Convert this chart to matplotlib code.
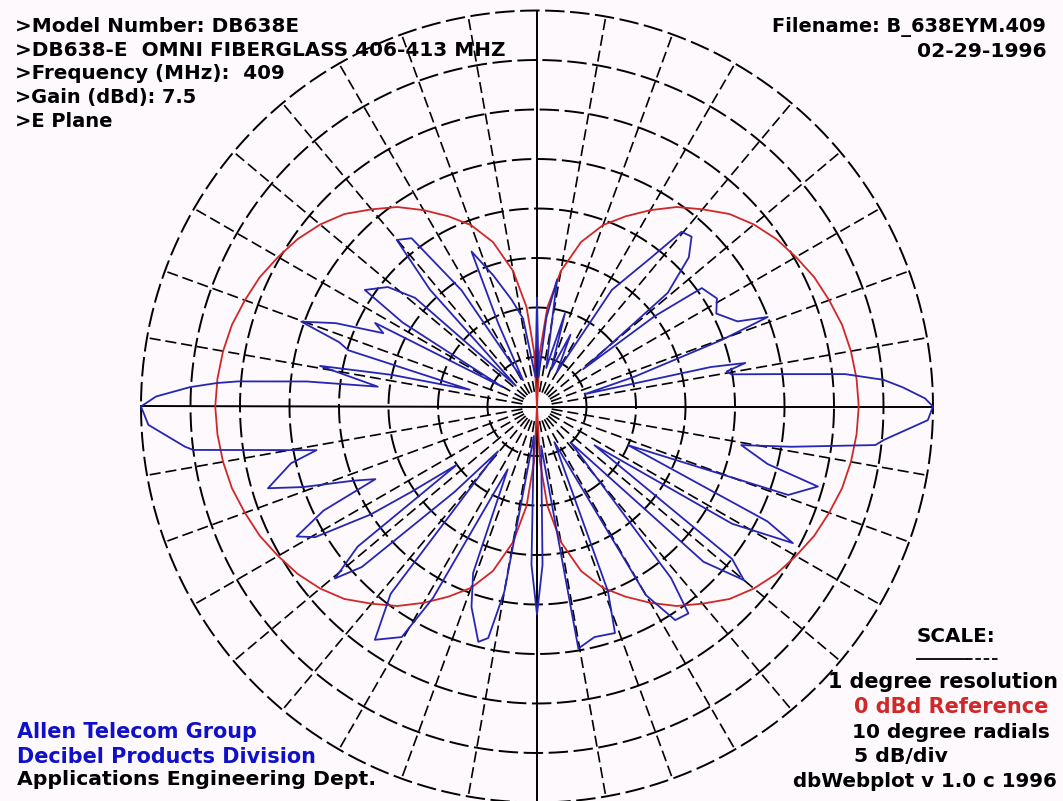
import numpy as np
import matplotlib
matplotlib.use("Agg")
import matplotlib.pyplot as plt

plt.rcParams['lines.scale_dashes'] = False

# measured E-plane pattern, dB relative to peak (angle 0 = horizon, counter-clockwise)
e_plane_deg = [0, 1.2, 3, 4.4, 6.0, 7.8, 9.4, 10.5, 11.8, 12.8, 14.5, 17, 19.8, 21.2, 23,
               27.4, 31, 35.7, 37.5, 39, 41, 44.5, 47.7, 50.4, 52.5, 57.3, 60, 65, 69,
               73.3, 76.5, 81, 84, 87, 90, 93, 99, 103.4, 108.5, 112.9, 115, 118, 123,
               126.7, 130.1, 132.5, 135.5, 138.3, 141.3, 145.9, 148, 150.5, 152.7, 154.5,
               157.5, 160.2, 162, 163.4, 166, 167.7, 169.4, 171, 172.9, 173.8, 175.2,
               175.8, 176.8, 178.5, 180,
               182.7, 186.5, 187.2, 191.2, 193, 196.9, 199, 202, 204.2, 206, 208.4, 210.5,
               213, 214.2, 216, 218, 220.4, 222.5, 226, 229, 232, 235.2, 239.6, 241.5, 245,
               249, 251.9, 256, 258.1, 260, 264, 268, 270, 272, 276, 279.7, 284, 289, 291,
               296, 300, 302.9, 306.2, 308, 313, 317, 320, 322, 326, 329, 331.9, 333.5,
               337, 340.6, 344.1, 346, 349.3, 351, 353.5, 354.5, 358, 360]
e_plane_db = [0, -0.8, -3.0, -4.9, -8.7, -15.9, -20.1, -20.5, -18.5, -22, -35, -29.7, -20.2,
              -15.0, -18, -19.6, -18.8, -19.5, -25, -34, -22.5, -18.5, -16.8, -17.1, -21,
              -26, -36, -32, -36, -30.2, -36, -27, -31, -37, -29, -37, -31, -28.9, -26,
              -23, -30.7, -37, -26, -18.8, -18.0, -24, -37, -23.5, -20.7, -19.0, -24, -36,
              -21.6, -22.8, -18, -14.7, -19, -20.1, -33, -25, -17.7, -21, -23.8, -16.6,
              -9.7, -7.6, -4.9, -1.5, 0,
              -0.7, -4.2, -5.0, -17.3, -14.5, -11.6, -15, -20, -22.1, -16, -12.4, -14,
              -20, -24.7, -30, -17, -13.2, -16, -28, -34, -16, -11.3, -13.0, -18, -33,
              -22, -18.7, -15.5, -16.1, -21, -37, -24, -19, -24, -36, -15.2, -16, -15.8,
              -20, -36, -18, -14.3, -14.1, -18, -35, -17, -12.7, -15, -33, -17, -10.7,
              -14, -30, -13.1, -10.5, -16, -19, -14, -5.6, -4.8, -0.5, 0]

# half-wave dipole reference (elevation from horizon, dBd)
ref_elev_deg = [0, 5, 10, 15, 20, 25, 30, 35, 40, 45, 50, 55, 60, 65, 70, 75, 80, 84, 87, 90]
ref_dbd = [0, -0.1, -0.3, -0.6, -1.1, -1.6, -2.3, -3.0, -3.9, -5.0, -6.5, -7.9, -9.6,
           -11.3, -13.0, -15.3, -18.6, -22.4, -27.0, -32.5]

peak_gain_dbd = 7.5
floor_db = -40

header_left = [">Model Number: DB638E",
               ">DB638-E  OMNI FIBERGLASS 406-413 MHZ",
               ">Frequency (MHz):  409",
               ">Gain (dBd): 7.5",
               ">E Plane"]
header_right = ["Filename: B_638EYM.409", "02-29-1996"]

W, H = 1063, 801
BG = '#fdf9fd'
BLUE = '#2626b4'
RED = '#d02828'

fig = plt.figure(figsize=(W / 100, H / 100), dpi=100, facecolor=BG)
cx, cy, R = 537, 406.5, 396
ax = fig.add_axes([(cx - R) / W, (H - cy - R) / H, 2 * R / W, 2 * R / H], projection='polar')
ax.set_axis_off()
ax.set_ylim(floor_db, 0)

# grid: dashed rings every 5 dB, dashed radials every 10 degrees
th = np.linspace(0, 2 * np.pi, 721)
for lvl in range(-35, 1, 5):
    ax.plot(th, np.full_like(th, lvl), color='black', lw=1.4,
            linestyle=(4, (14, 4)), clip_on=False, zorder=1)
for a in range(0, 360, 10):
    if a % 90:
        ax.plot([np.radians(a)] * 2, [floor_db + 1.5, 0], color='black', lw=1.2,
                linestyle=(0, (8, 3.5)), clip_on=False, zorder=1)
for a in (0, 90, 180, 270):
    ax.plot([np.radians(a)] * 2, [floor_db, 0], color='black', lw=1.4,
            clip_on=False, zorder=2)

# 0 dBd reference, mirrored into both lobes
el = np.array(ref_elev_deg)
ref = np.clip(np.array(ref_dbd) - peak_gain_dbd, floor_db, 0)
right_th = np.radians(np.concatenate([-el[::-1], el[1:]]))
right_r = np.concatenate([ref[::-1], ref[1:]])
ax.plot(right_th, right_r, color=RED, lw=1.3, zorder=3, clip_on=False)
ax.plot(np.pi - right_th, right_r, color=RED, lw=1.3, zorder=3, clip_on=False)

# measured pattern
ax.plot(np.radians(e_plane_deg), np.clip(e_plane_db, floor_db, 0), color=BLUE,
        lw=1.3, zorder=4, clip_on=False)

renderer = fig.canvas.get_renderer()


def put(s, x0, x1, base, color='black', weight='bold'):
    t = fig.text(x0 / W, 1 - base / H, s, ha='left', va='baseline', color=color,
                 fontsize=13, fontweight=weight, family='DejaVu Sans')
    w = t.get_window_extent(renderer).width
    t.set_fontsize(13 * (x1 - x0) / w)
    return t


for s, x1, b in zip(header_left, [298, 502, 283, 195, 112], [32, 55.5, 79, 103, 127]):
    put(s, 15, x1, b)
put(header_right[0], 772, 1045, 31.7)
put(header_right[1], 917, 1046, 56.7)

put("SCALE:", 917, 995, 641.7)
fig.add_artist(plt.Line2D([917 / W, 967 / W], [1 - 659 / H] * 2, color='black', lw=1.3))
fig.add_artist(plt.Line2D([967 / W, 998 / W], [1 - 659 / H] * 2, color='black', lw=1.3,
                          linestyle=(0, (4, 2))))
put("1 degree resolution", 828, 1057, 688.3)
put("0 dBd Reference", 854, 1047, 713.3, color=RED)
put("10 degree radials", 852, 1048, 738.3)
put("5 dB/div", 854, 947, 761.7)
put("dbWebplot v 1.0 c 1996", 793, 1057, 786.7)

put("Allen Telecom Group", 17, 255, 738.3, color='#1010c8')
put("Decibel Products Division", 17, 313, 763.3, color='#1010c8')
put("Applications Engineering Dept.", 17, 373, 785)

fig.savefig("out.png", dpi=100, facecolor=BG)
